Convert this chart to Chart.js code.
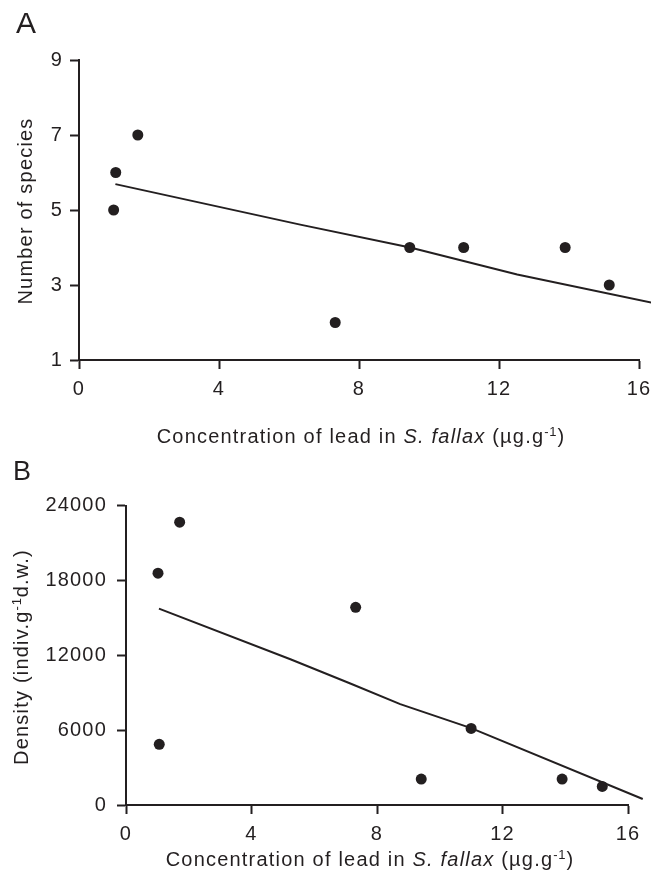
<!DOCTYPE html>
<html>
<head>
<meta charset="utf-8">
<script src="https://cdn.jsdelivr.net/npm/chart.js@4.4.1/dist/chart.umd.min.js"></script>
<style>
  html, body { margin: 0; padding: 0; background: #fff; }
  body { width: 651px; height: 883px; position: relative; overflow: hidden;
         font-family: 'Liberation Sans', Arial, Helvetica, sans-serif; color: #231f20; }
  .wrap { position: absolute; left: 0; }
  .lbl { position: absolute; white-space: nowrap; line-height: 20px; font-size: 20px; letter-spacing: 1.2px; }
  .panel { position: absolute; white-space: nowrap; line-height: 1; }
  sup { font-size: 13px; line-height: 0; vertical-align: 7px; letter-spacing: 0.8px; }
</style>
</head>
<body>
<div class="wrap" style="top:0;width:651px;height:430px"><canvas id="chartA" width="651" height="430"></canvas></div>
<div class="wrap" style="top:430px;width:651px;height:453px"><canvas id="chartB" width="651" height="453"></canvas></div>

<div class="panel" style="left:16px;top:8px;font-size:30px">A</div>
<div class="panel" style="left:13px;top:458px;font-size:27px">B</div>

<div class="lbl" style="left:361px;top:426px;transform:translateX(-50%)">Concentration of lead in <i>S. fallax</i> (µg.g<sup>-1</sup>)</div>
<div class="lbl" style="left:370px;top:849px;transform:translateX(-50%)">Concentration of lead in <i>S. fallax</i> (µg.g<sup>-1</sup>)</div>
<div class="lbl" style="left:25px;top:211px;transform:translate(-50%,-50%) rotate(-90deg)">Number of species</div>
<div class="lbl" style="left:21px;top:657px;transform:translate(-50%,-50%) rotate(-90deg)">Density (indiv.g<sup>-1</sup>d.w.)</div>

<script>
// ---- data ----
const xTickValues = [0, 4, 8, 12, 16];
const speciesTicks = [1, 3, 5, 7, 9];
const densityTicks = [0, 6000, 12000, 18000, 24000];

// Panel A: number of species
const leadA   = [0.99, 1.05, 1.68, 7.32, 9.45, 10.99, 13.89, 15.15];
const species = [5, 6, 7, 2, 4, 4, 4, 3];
const fitLeadA   = [1.04, 6.32, 9.46, 12.52, 16.35];
const fitSpecies = [5.69, 4.61, 4.00, 3.28, 2.53];

// Panel B: density
const leadB   = [1.02, 1.06, 1.71, 7.32, 9.41, 11.0, 13.9, 15.18];
const density = [18580, 4860, 22660, 15840, 2080, 6140, 2080, 1490];
const fitLeadB   = [1.05, 5.24, 7.15, 8.74, 11.0, 16.47];
const fitDensity = [15740, 11680, 9740, 8080, 6160, 480];

// ---- styling ----
const ink = '#231f20';
const family = "'Liberation Sans', Arial, Helvetica, sans-serif";

const spacingPlugin = {
  id: 'letterSpacing',
  beforeDraw(chart) { chart.ctx.letterSpacing = '1.2px'; }
};

function pts(xs, ys) { return xs.map((x, i) => ({ x: x, y: ys[i] })); }

function axis(tickList, min, max, size, isX, pad) {
  return {
    type: 'linear',
    min: min, max: max,
    afterBuildTicks: (s) => { s.ticks = tickList.map(v => ({ value: v })); },
    afterFit: (s) => {
      if (isX) s.height = size; else s.width = size;
      s.paddingLeft = 0; s.paddingRight = 0; s.paddingTop = 0; s.paddingBottom = 0;
    },
    ticks: {
      color: ink, padding: pad,
      font: { family: family, size: 20 },
      callback: (v) => String(v)
    },
    grid: { display: true, drawOnChartArea: false, drawTicks: true,
            tickLength: 9, tickWidth: 2, tickColor: ink },
    border: { display: true, color: ink, width: 2 }
  };
}

function makeChart(id, xs, ys, fx, fy, yTicks, yMin, yMax, pad, yWidth, xHeight, yPad) {
  return new Chart(document.getElementById(id), {
    type: 'scatter',
    data: {
      datasets: [
        { type: 'line', data: pts(fx, fy), borderColor: ink, borderWidth: 2,
          pointRadius: 0, fill: false, tension: 0, clip: false },
        { data: pts(xs, ys), backgroundColor: ink, borderWidth: 0,
          pointRadius: 5.5, pointHoverRadius: 5.5 }
      ]
    },
    options: {
      responsive: false, devicePixelRatio: 1, animation: false, events: [],
      layout: { padding: pad },
      plugins: { legend: { display: false }, tooltip: { enabled: false } },
      scales: {
        x: axis(xTickValues, 0, 16, xHeight, true, 8),
        y: axis(yTicks, yMin, yMax, yWidth, false, yPad)
      }
    },
    plugins: [spacingPlugin]
  });
}

makeChart('chartA', leadA, species, fitLeadA, fitSpecies, speciesTicks, 1, 9,
  { left: 0, right: 12, top: 60, bottom: 0 }, 79, 70, 7);
makeChart('chartB', leadB, density, fitLeadB, fitDensity, densityTicks, 0, 24000,
  { left: 0, right: 23, top: 75.5, bottom: 0 }, 126, 78, 10);
</script>
</body>
</html>
